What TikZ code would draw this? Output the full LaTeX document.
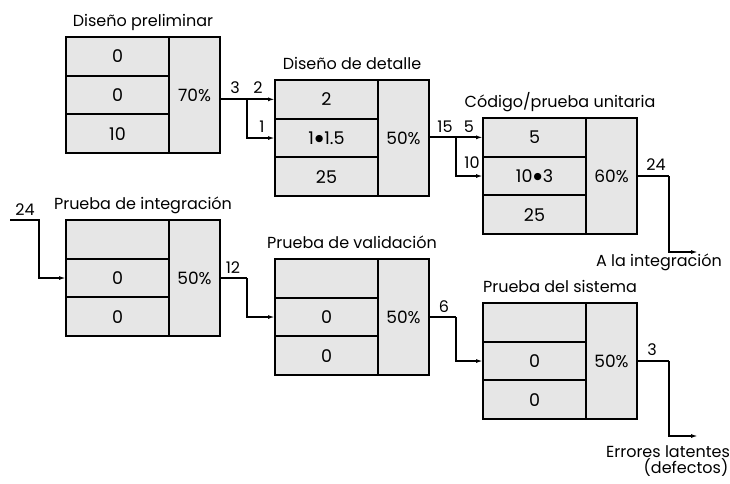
\documentclass[tikz,border=0pt]{standalone}
\usepackage{fontspec}
\setmainfont{Poppins}
\newfontfamily\dvfont{DejaVu Sans}
\usetikzlibrary{arrows.meta,calc}
\definecolor{boxgray}{HTML}{E6E6E6}
\tikzset{
  every node/.style={font=\fontsize{16}{19}\selectfont},
  cell/.style={draw, line width=2pt, fill=boxgray, minimum width=103pt, minimum height=38.67pt, inner sep=0pt, outer sep=0pt, anchor=north west, font=\fontsize{17.5}{20}\selectfont},
  pcell/.style={draw, line width=2pt, fill=boxgray, minimum width=51pt, minimum height=116pt, inner sep=0pt, outer sep=0pt, anchor=north west, font=\fontsize{17}{20}\selectfont},
  conn/.style={line width=1.8pt, -{Latex[length=7pt,width=4pt]}},
  wire/.style={line width=1.8pt},
  lbl/.style={inner sep=0pt, anchor=base},
}
\newcommand\bul{\kern1pt\raisebox{3.2pt}{\dvfont\fontsize{9.5}{10}\selectfont●}\kern1pt}
\newcommand\pbox[8]{%
  \node[cell] (#1-r1) at (#2,#3) {#4};
  \node[cell] (#1-r2) at (#2,#3+38.67) {#5};
  \node[cell] (#1-r3) at (#2,#3+77.33) {#6};
  \node[pcell] (#1-p) at (#2+103,#3) {#7};
  \node[lbl] (#1-t) at (#2+77,#3-11) {#8};
}
\begin{document}
\begin{tikzpicture}[x=1pt,y=-1pt]
\useasboundingbox (0,0) rectangle (730,483);
\pbox{B1}{66}{37}{0}{0}{10}{70\%}{Diseño preliminar}
\pbox{B2}{275}{80}{2}{1\bul1.5}{25}{50\%}{Diseño de detalle}
\pbox{B3}{483}{118}{5}{10\bul3}{25}{60\%}{Código/prueba unitaria}
\pbox{B4}{66}{220}{}{0}{0}{50\%}{Prueba de integración}
\pbox{B5}{275}{259}{}{0}{0}{50\%}{Prueba de validación}
\pbox{B6}{483}{303}{}{0}{0}{50\%}{Prueba del sistema}

% B1 -> B2
\coordinate (j1) at (247,99.3);
\draw[conn] (B1-p.east |- B2-r1.west) -- (B2-r1.west);
\draw[conn] (j1) |- (B2-r2.west);
\node[lbl] (l3a) at (235,93) {3};
\node[lbl] (l2a) at (258,93) {2};
\node[lbl] (l1a) at (262,132) {1};

% B2 -> B3
\coordinate (j2) at (456,137.3);
\draw[conn] (B2-p.east |- B3-r1.west) -- (B3-r1.west);
\draw[conn] (j2) |- (B3-r2.west);
\node[lbl] (l15) at (445,132) {15};
\node[lbl] (l5) at (469,132) {5};
\node[lbl] (l10) at (472,168) {10};

% B3 -> integración
\coordinate (o1) at (698,252);
\draw[wire] (B3-p.east) -- (669,176) coordinate (k1);
\draw[conn] (k1) |- (o1);
\node[lbl] (l24a) at (656,170) {24};
\node[lbl] (tint) at (659,266) {A la integración};

% input -> B4
\coordinate (in24) at (10,220);
\draw[conn] (in24) -- (39,220) |- (B4-r2.west);
\node[lbl] (l24b) at (25,215) {24};

% B4 -> B5
\draw[wire] (B4-p.east) -- (247,278) coordinate (k2);
\draw[conn] (k2) |- (B5-r2.west);
\node[lbl] (l12) at (233,273) {12};

% B5 -> B6
\draw[wire] (B5-p.east) -- (456,317) coordinate (k3);
\draw[conn] (k3) |- (B6-r2.west);
\node[lbl] (l6) at (444,312) {6};

% B6 -> errores
\coordinate (o2) at (698,436);
\draw[wire] (B6-p.east) -- (669,361) coordinate (k4);
\draw[conn] (k4) |- (o2);
\node[lbl] (l3b) at (652,355) {3};
\node[lbl] (terr) at (668,457) {Errores latentes};
\node[lbl] (tdef) at (686,473) {(defectos)};
\end{tikzpicture}
\end{document}
